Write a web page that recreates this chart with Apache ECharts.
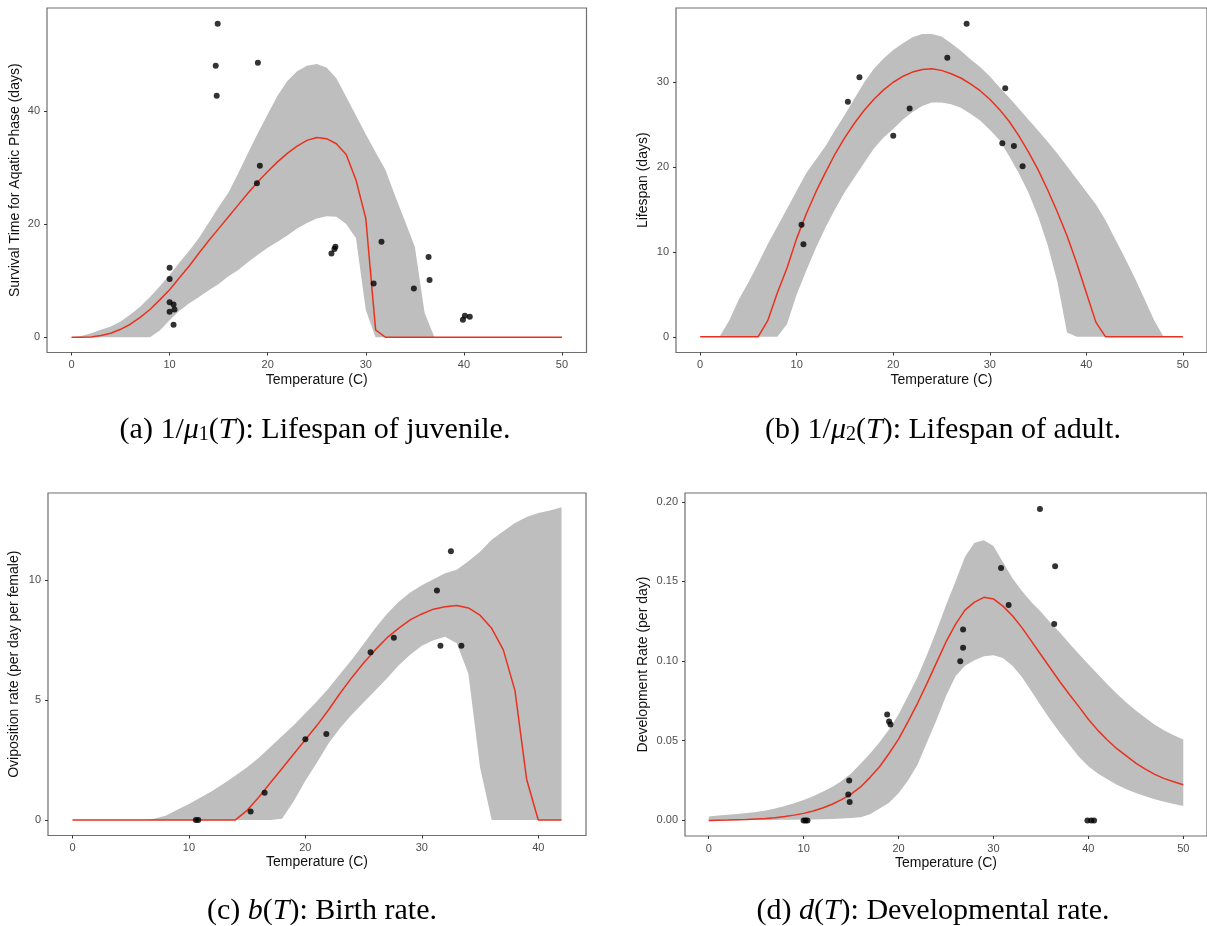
<!DOCTYPE html>
<html>
<head>
<meta charset="utf-8">
<script src="https://cdn.jsdelivr.net/npm/echarts@6/dist/echarts.min.js"></script>
<style>
html,body{margin:0;padding:0;background:#fff;}
#chart{width:1207px;height:926px;}
</style>
</head>
<body>
<div id="chart"></div>
<script>
// ---------- DATA ----------
const tempGrid = [0,1,2,3,4,5,6,7,8,9,10,11,12,13,14,15,16,17,18,19,20,21,22,23,24,25,26,27,28,29,30,31,32,33,34,35,36,37,38,39,40,41,42,43,44,45,46,47,48,49,50];
const tempGridBirth = [0,1,2,3,4,5,6,7,8,9,10,11,12,13,14,15,16,17,18,19,20,21,22,23,24,25,26,27,28,29,30,31,32,33,34,35,36,37,38,39,40,41,42];

// (a) juvenile lifespan
const juvMean  = [0,0,0.05,0.3,0.7,1.4,2.3,3.5,4.9,6.6,8.4,10.5,12.6,14.9,17.1,19.2,21.3,23.4,25.5,27.5,29.3,31.0,32.5,33.8,34.8,35.3,35.1,34.2,32.3,27.8,21.0,1.3,0,0,0,0,0,0,0,0,0,0,0,0,0,0,0,0,0,0,0];
const juvUpper = [0,0.2,0.7,1.3,1.9,2.8,4.0,5.4,7.1,9.0,11.0,13.2,15.3,17.6,20.3,23.0,25.6,29.0,32.6,36.1,39.4,42.7,45.3,47.0,48.0,48.3,47.7,45.8,42.5,39.2,35.9,32.7,29.6,24.9,20.5,16.0,4.3,0,0,0,0,0,0,0,0,0,0,0,0,0,0];
const juvLower = [0,0,0,0,0,0,0,0,0,1.2,3.0,4.7,6.0,7.1,8.3,9.4,10.8,11.9,13.3,14.6,15.8,16.9,18.0,19.2,20.2,21.0,21.4,21.3,20.0,17.5,4.8,0,0,0,0,0,0,0,0,0,0,0,0,0,0,0,0,0,0,0,0];
const juvObsT  = [14.9,14.7,19.0,14.8,19.2,18.9,26.5,26.8,26.9,31.6,30.8,34.9,36.4,36.5,39.9,40.1,40.6,10.0,10.0,10.0,10.4,10.5,10.0,10.4];
const juvObsY  = [55.4,48.0,48.5,42.7,30.3,27.2,14.8,15.6,16.0,16.9,9.5,8.6,14.2,10.1,3.1,3.8,3.6,12.3,10.3,6.2,5.8,4.9,4.5,2.2];

// (b) adult lifespan
const adultMean  = [0,0,0,0,0,0,0,1.9,5.2,8.1,11.6,14.5,17.1,19.4,21.6,23.5,25.2,26.7,28.0,29.1,30.0,30.7,31.2,31.5,31.6,31.4,31.0,30.5,29.8,29.0,28.0,26.8,25.4,23.7,21.8,19.7,17.3,14.7,11.9,8.7,5.2,1.7,0,0,0,0,0,0,0,0,0];
const adultUpper = [0,0,0,1.9,4.4,6.4,8.6,10.9,13.0,15.1,17.2,19.3,20.9,22.5,24.4,26.2,28.1,30.0,31.6,32.8,33.8,34.6,35.3,35.7,35.7,35.4,34.6,33.7,32.7,31.8,30.7,29.4,28.2,26.9,25.6,24.3,23.0,21.6,20.1,18.6,17.1,15.6,13.7,11.5,9.3,7.0,4.5,2.0,0,0,0];
const adultLower = [0,0,0,0,0,0,0,0,0,1.5,5.0,7.8,10.5,12.9,15.1,17.1,18.8,20.5,22.2,23.5,24.5,25.6,26.5,27.2,27.6,27.6,27.4,27.0,26.3,25.5,24.4,23.2,21.3,19.3,17.0,14.2,10.8,6.5,0.5,0,0,0,0,0,0,0,0,0,0,0,0];
const adultObsT  = [10.5,10.7,15.3,16.5,20.0,21.7,25.6,27.6,31.6,31.3,32.5,33.4];
const adultObsY  = [13.2,10.9,27.7,30.6,23.7,26.9,32.9,36.9,29.3,22.8,22.5,20.1];

// (c) birth rate
const birthMean  = [0,0,0,0,0,0,0,0,0,0,0,0,0,0,0,0.4,0.95,1.55,2.15,2.75,3.35,3.95,4.6,5.3,5.95,6.55,7.1,7.6,8.0,8.35,8.6,8.8,8.9,8.95,8.85,8.55,8.0,7.1,5.4,1.7,0,0,0];
const birthUpper = [0,0,0,0,0,0,0,0.05,0.17,0.42,0.67,0.94,1.21,1.52,1.85,2.2,2.6,3.05,3.5,3.95,4.45,4.95,5.5,6.1,6.7,7.35,8.0,8.6,9.1,9.5,9.8,10.05,10.3,10.45,10.8,11.2,11.7,12.05,12.4,12.65,12.82,12.92,13.06];
const birthLower = [0,0,0,0,0,0,0,0,0,0,0,0,0,0,0,0,0,0,0.05,0.78,1.64,2.4,3.2,3.85,4.4,4.9,5.4,5.9,6.45,6.9,7.27,7.5,7.65,7.38,6.1,2.2,0,0,0,0,0,0,0];
const birthObsT  = [10.6,10.8,15.3,16.5,20.0,21.8,25.6,27.6,31.3,31.6,32.5,33.4];
const birthObsY  = [0,0,0.35,1.13,3.37,3.59,7.0,7.61,9.58,7.27,11.22,7.27];

// (d) development rate
const devMean  = [0.0000,0.0001,0.0002,0.0004,0.0006,0.0009,0.0012,0.0017,0.0024,0.0033,0.0044,0.0059,0.0078,0.0101,0.0130,0.0165,0.0210,0.0270,0.0337,0.0420,0.0510,0.0620,0.0735,0.0860,0.0990,0.1120,0.1230,0.1320,0.1370,0.1400,0.1390,0.1345,0.1285,0.1210,0.1125,0.1040,0.0955,0.0870,0.0790,0.0714,0.0635,0.0565,0.0505,0.0450,0.0405,0.0360,0.0322,0.0289,0.0262,0.0242,0.0224];
const devUpper = [0.0025,0.0030,0.0035,0.0040,0.0046,0.0053,0.0062,0.0075,0.0090,0.0108,0.0128,0.0152,0.0180,0.0210,0.0248,0.0295,0.0355,0.0420,0.0490,0.0570,0.0665,0.0780,0.0900,0.1040,0.1190,0.1350,0.1500,0.1655,0.1742,0.1759,0.1722,0.1620,0.1520,0.1440,0.1370,0.1310,0.1240,0.1180,0.1110,0.1045,0.0980,0.0918,0.0855,0.0795,0.0740,0.0690,0.0645,0.0600,0.0565,0.0535,0.0507];
const devLower = [0.0000,0.0000,0.0001,0.0001,0.0002,0.0002,0.0003,0.0003,0.0004,0.0004,0.0005,0.0006,0.0007,0.0009,0.0012,0.0015,0.0020,0.0038,0.0075,0.0110,0.0170,0.0250,0.0350,0.0490,0.0630,0.0780,0.0905,0.0970,0.1005,0.1030,0.1036,0.1020,0.0970,0.0900,0.0810,0.0720,0.0631,0.0550,0.0475,0.0400,0.0340,0.0295,0.0258,0.0224,0.0196,0.0172,0.0151,0.0133,0.0117,0.0103,0.0091];
const devObsT  = [10.0,10.2,10.4,14.8,14.7,14.85,18.8,19.0,19.15,26.5,26.8,26.8,30.8,31.6,34.9,36.5,36.4,39.9,40.3,40.6];
const devObsY  = [0,0,0,0.0251,0.0162,0.0116,0.0665,0.0621,0.0602,0.0999,0.1084,0.1198,0.1585,0.1352,0.1954,0.1595,0.1232,0,0,0];

// tick labels
const xTicks50 = [0,10,20,30,40,50];
const xTicks42 = [0,10,20,30,40];
const yTicksJuv = [0,20,40];
const yTicksAdult = [0,10,20,30];
const yTicksBirth = [0,5,10];
const yTicksDev = [0,0.05,0.10,0.15,0.20];

const xTitle = 'Temperature (C)';
const yTitles = ['Survival Time for Aqatic Phase (days)','Lifespan (days)','Oviposition rate (per day per female)','Development Rate (per day)'];

// ---------- STYLE ----------
const SANS = 'Liberation Sans, Arial, Helvetica, sans-serif';
const SERIF = 'Liberation Serif, Times New Roman, serif';
const RIBBON = '#bebebe';
const RED = '#e8321f';
const FRAME = '#6e6e6e';

const grids = [
  {left: 47, top: 8, width: 539.5, height: 344.5},
  {left: 676, top: 8, width: 540, height: 344.5},
  {left: 48, top: 493, width: 538, height: 342.5},
  {left: 685, top: 493, width: 539, height: 343}
];

function xAxis(i, min, max, ticks, gap) {
  return {
    type: 'value', gridIndex: i, min: min, max: max,
    splitLine: {show: false},
    axisLine: {show: false, onZero: false},
    axisTick: {show: true, length: 3, lineStyle: {color: '#333'}, customValues: ticks},
    axisLabel: {color: '#4d4d4d', fontSize: 11, fontFamily: SANS, margin: 7, customValues: ticks, showMinLabel: true, showMaxLabel: true},
    name: xTitle, nameLocation: 'middle', nameGap: gap,
    nameTextStyle: {color: '#111', fontSize: 14, fontFamily: SANS}
  };
}
function yAxis(i, min, max, ticks, name, gap, fmt) {
  return {
    type: 'value', gridIndex: i, min: min, max: max,
    splitLine: {show: false},
    axisLine: {show: false, onZero: false},
    axisTick: {show: true, length: 3, lineStyle: {color: '#333'}, customValues: ticks},
    axisLabel: {color: '#4d4d4d', fontSize: 11, fontFamily: SANS, margin: 7, customValues: ticks,
      formatter: fmt || (v => String(v))},
    name: name, nameLocation: 'middle', nameGap: gap,
    nameTextStyle: {color: '#111', fontSize: 14, fontFamily: SANS}
  };
}

function ribbon(i, T, up, lo) {
  return {
    type: 'custom', xAxisIndex: i, yAxisIndex: i, clip: true, silent: true, z: 1,
    data: [[T[0], lo[0]]],
    renderItem: function (params, api) {
      const pts = [];
      for (let k = 0; k < T.length; k++) pts.push(api.coord([T[k], up[k]]));
      for (let k = T.length - 1; k >= 0; k--) pts.push(api.coord([T[k], lo[k]]));
      return {type: 'polygon', shape: {points: pts}, style: {fill: RIBBON, stroke: null}};
    }
  };
}
function meanLine(i, T, m) {
  return {
    type: 'line', xAxisIndex: i, yAxisIndex: i, z: 3, showSymbol: false, silent: true,
    data: T.map((t, k) => [t, m[k]]),
    lineStyle: {color: RED, width: 1.5}
  };
}
function points(i, xs, ys) {
  return {
    type: 'scatter', xAxisIndex: i, yAxisIndex: i, z: 4, silent: true,
    symbolSize: 6, itemStyle: {color: '#000'},
    data: xs.map((x, k) => [x, ys[k]])
  };
}

const CF = 30;
const captionRich = {
  n: {fontFamily: SERIF, fontSize: CF, color: '#000'},
  i: {fontFamily: SERIF, fontSize: CF, color: '#000', fontStyle: 'italic'},
  s: {fontFamily: SERIF, fontSize: 20, color: '#000', verticalAlign: 'bottom', padding: [10, 0, 0, 0]}
};
function caption(text, cx, top) {
  return {text: text, left: cx, top: top, textAlign: 'center',
    textStyle: {rich: captionRich, fontFamily: SERIF, fontSize: CF, fontWeight: 'normal', color: '#000'}};
}

const option = {
  animation: false,
  backgroundColor: '#fff',
  title: [
    caption('{n|(a) 1/}{i|μ}{s|1}{n|(}{i|T}{n|): Lifespan of juvenile.}', 310, 410),
    caption('{n|(b) 1/}{i|μ}{s|2}{n|(}{i|T}{n|): Lifespan of adult.}', 938, 410),
    caption('{n|(c) }{i|b}{n|(}{i|T}{n|): Birth rate.}', 317, 891),
    caption('{n|(d) }{i|d}{n|(}{i|T}{n|): Developmental rate.}', 928, 891)
  ],
  grid: grids.map(g => Object.assign({show: true, borderColor: FRAME, borderWidth: 1.2, backgroundColor: 'transparent', containLabel: false}, g)),
  xAxis: [
    xAxis(0, -2.5, 52.5, xTicks50, 21),
    xAxis(1, -2.5, 52.5, xTicks50, 21),
    xAxis(2, -2.1, 44.1, xTicks42, 20),
    xAxis(3, -2.5, 52.5, xTicks50, 20)
  ],
  yAxis: [
    yAxis(0, -2.7, 58.2, yTicksJuv, yTitles[0], 25),
    yAxis(1, -1.85, 38.75, yTicksAdult, yTitles[1], 26),
    yAxis(2, -0.65, 13.65, yTicksBirth, yTitles[2], 27),
    yAxis(3, -0.0098, 0.2055, yTicksDev, yTitles[3], 35, v => v.toFixed(2))
  ],
  series: [
    ribbon(0, tempGrid, juvUpper, juvLower), meanLine(0, tempGrid, juvMean), points(0, juvObsT, juvObsY),
    ribbon(1, tempGrid, adultUpper, adultLower), meanLine(1, tempGrid, adultMean), points(1, adultObsT, adultObsY),
    ribbon(2, tempGridBirth, birthUpper, birthLower), meanLine(2, tempGridBirth, birthMean), points(2, birthObsT, birthObsY),
    ribbon(3, tempGrid, devUpper, devLower), meanLine(3, tempGrid, devMean), points(3, devObsT, devObsY)
  ]
};

const chart = echarts.init(document.getElementById('chart'), null, {renderer: 'canvas'});
chart.setOption(option);
</script>
</body>
</html>
